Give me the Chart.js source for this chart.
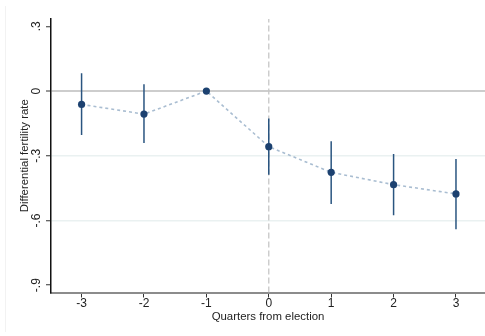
<!DOCTYPE html>
<html>
<head>
<meta charset="utf-8">
<script src="https://cdn.jsdelivr.net/npm/chart.js@4/dist/chart.umd.min.js"></script>
<style>
html,body{margin:0;padding:0;background:#fff;}
#wrap{position:relative;width:485px;height:336px;}
#frame{position:absolute;left:5px;top:6px;width:1px;height:326px;background:#f2f2f2;}
canvas{position:absolute;left:0;top:0;}
</style>
</head>
<body>
<div id="wrap"><div id="frame"></div><canvas id="c" width="485" height="336"></canvas></div>
<script>
// ---- data ----
const quarters = [-3, -2, -1, 0, 1, 2, 3];
const estimates = [-0.062, -0.107, 0, -0.258, -0.377, -0.434, -0.477];
const ciUpper = [0.082, 0.031, 0, -0.127, -0.233, -0.292, -0.315];
const ciLower = [-0.204, -0.241, 0, -0.388, -0.524, -0.576, -0.641];
const xTicks = [-3, -2, -1, 0, 1, 2, 3];
const yTicks = [0.3, 0, -0.3, -0.6, -0.9];
const yTickLabels = ['.3', '0', '-.3', '-.6', '-.9'];
const electionQuarter = 0;
const xRange = [-3.49, 3.465];
const yRange = [-0.934, 0.334];

const FONT = "'Liberation Sans', Arial, Helvetica, sans-serif";

// build datasets from arrays
const pointData = quarters.map((q, i) => ({x: q, y: estimates[i]}));
const errData = [];
quarters.forEach((q, i) => {
  if (ciUpper[i] === ciLower[i]) return;
  errData.push({x: q, y: ciLower[i]});
  errData.push({x: q, y: ciUpper[i]});
  errData.push({x: q, y: null});
});
const electionData = [{x: electionQuarter, y: yRange[0]}, {x: electionQuarter, y: yRange[1]}];

const yLabelPlugin = {
  id: 'yLabels',
  afterDraw(chart) {
    const ys = chart.scales.y;
    const ctx = chart.ctx;
    ctx.save();
    ctx.fillStyle = '#222';
    ctx.font = '12px ' + FONT;
    ctx.textAlign = 'center';
    ctx.textBaseline = 'alphabetic';
    yTicks.forEach((v, i) => {
      const py = ys.getPixelForValue(v);
      ctx.save();
      ctx.translate(39.5, py);
      ctx.rotate(-Math.PI / 2);
      ctx.fillText(yTickLabels[i], 0, 0);
      ctx.restore();
    });
    ctx.restore();
  }
};

new Chart(document.getElementById('c'), {
  type: 'scatter',
  data: {
    datasets: [
      {
        label: 'estimate',
        data: pointData,
        showLine: false,
        pointRadius: 3.6,
        pointBackgroundColor: '#1c4170',
        pointBorderColor: '#1c4170',
        pointBorderWidth: 0,
        order: 0
      },
      {
        label: 'ci',
        data: errData,
        showLine: true,
        spanGaps: false,
        pointRadius: 0,
        borderColor: '#2a5580',
        borderWidth: 1.5,
        order: 1
      },
      {
        label: 'connect',
        data: pointData,
        showLine: true,
        pointRadius: 0,
        borderColor: '#a9bdd1',
        borderWidth: 1.6,
        borderDash: [3, 3],
        tension: 0,
        order: 2
      },
      {
        label: 'election',
        data: electionData,
        showLine: true,
        pointRadius: 0,
        borderColor: '#c6c6c6',
        borderWidth: 1.3,
        borderDash: [6, 3],
        order: 3
      }
    ]
  },
  options: {
    responsive: false,
    animation: false,
    events: [],
    layout: {autoPadding: false, padding: {top: 19, left: 0, right: 0, bottom: 0}},
    plugins: {legend: {display: false}, tooltip: {enabled: false}},
    scales: {
      x: {
        type: 'linear',
        min: xRange[0],
        max: xRange[1],
        afterBuildTicks(s) { s.ticks = xTicks.map(v => ({value: v})); },
        afterFit(s) { s.height = 43.5; s.paddingLeft = 0; s.paddingRight = 0; },
        grid: {drawOnChartArea: false, tickLength: 5, tickColor: '#333', tickWidth: 1},
        border: {color: '#8c8c8c', width: 2},
        ticks: {
          color: '#222', padding: 0, maxRotation: 0, autoSkip: false,
          font: {family: FONT, size: 12, lineHeight: 1},
          callback: v => String(v)
        },
        title: {
          display: true, text: 'Quarters from election', color: '#222',
          font: {family: FONT, size: 11.4},
          padding: {top: 0, bottom: 12.5}
        }
      },
      y: {
        type: 'linear',
        min: yRange[0],
        max: yRange[1],
        afterBuildTicks(s) { s.ticks = yTicks.map(v => ({value: v})); },
        afterFit(s) { s.width = 51; s.paddingTop = 0; s.paddingBottom = 0; },
        grid: {
          drawOnChartArea: true,
          tickLength: 5, tickColor: '#333', tickWidth: 1,
          color: c => {
            const v = c.tick ? c.tick.value : null;
            if (v === 0) return '#cdcdcd';
            if (v === -0.3 || v === -0.6) return '#eaf1f1';
            return 'rgba(0,0,0,0)';
          },
          lineWidth: c => (c.tick && c.tick.value === 0) ? 2 : 1.5
        },
        border: {color: '#111', width: 1.5},
        ticks: {display: false},
        title: {
          display: true, text: 'Differential fertility rate', color: '#222',
          font: {family: FONT, size: 11.4},
          padding: {top: 18, bottom: 0}
        }
      }
    }
  },
  plugins: [yLabelPlugin]
});
</script>
</body>
</html>
